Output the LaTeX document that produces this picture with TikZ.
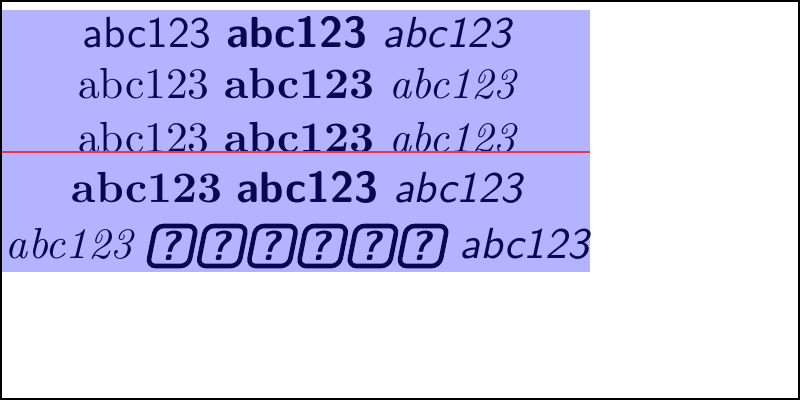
\documentclass[tikz,border=0pt]{standalone}
\usepackage{fontspec}
\definecolor{ink}{RGB}{8,8,80}
\definecolor{panel}{RGB}{179,179,255}
\begin{document}
\begin{tikzpicture}[x=0.46pt,y=0.46pt,
  txt/.style={text=ink, inner sep=0pt, font=\fontsize{10}{12}\selectfont},
  qbox/.style={draw=ink, line width=1.05pt, rounded corners=1.8pt, inner sep=0pt,
    minimum width=9.4pt, minimum height=9.2pt, xslant=0.2, text=ink,
    font=\fontsize{9.6}{11}\selectfont\sffamily\bfseries}]
\useasboundingbox (0,0) rectangle (400,-200);
\draw[line width=0.46pt] (0.5,-0.5) rectangle (399.5,-199.5);
\coordinate (bgnw) at (1,-5);
\coordinate (bgse) at (295,-136);
\fill[panel] (bgnw) rectangle (bgse);
\node[txt, anchor=base] (l1) at (148.5,-23.5)
  {{\sffamily abc123} {\sffamily\bfseries abc123} {\sffamily\itshape abc123}};
\node[txt, anchor=base] (l2) at (148.5,-49.25)
  {abc123 {\bfseries abc123} {\itshape abc123}};
\node[txt, anchor=base] (l3) at (148.5,-76)
  {abc123 {\bfseries abc123} {\itshape abc123}};
\node[txt, anchor=base] (l4) at (148.5,-101)
  {{\bfseries abc123} {\sffamily\bfseries abc123} {\sffamily\itshape abc123}};
\node[txt, anchor=base west] (l5a) at (2.5,-129) {\itshape abc123};
\node[txt, anchor=base east] (l5b) at (295,-129) {\sffamily\itshape abc123};
\foreach \i in {1,...,6}
  \node[qbox] (m\i) at ({86.05+25.1*(\i-1)},-123) {?};
\draw[red!70!panel, line width=0.45pt] (bgnw |- l3.base) -- (bgse |- l3.base);
\end{tikzpicture}
\end{document}
